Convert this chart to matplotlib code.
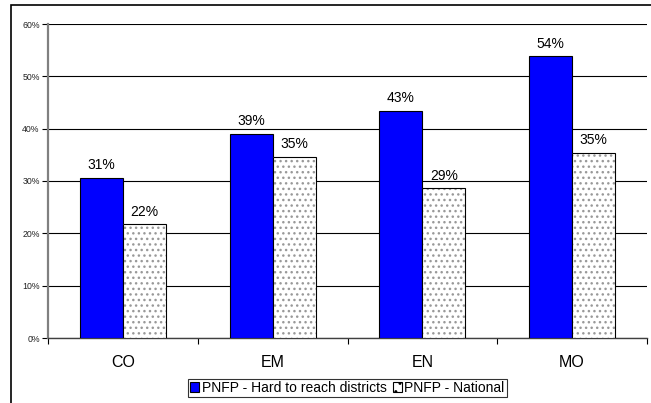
import matplotlib
matplotlib.use("Agg")
import matplotlib.pyplot as plt
from matplotlib.patches import Rectangle, Patch
from matplotlib.ticker import FixedLocator
import numpy as np

categories = ["CO", "EM", "EN", "MO"]
hard_to_reach = [30.6, 39.0, 43.4, 53.8]
national = [21.7, 34.6, 28.6, 35.4]
series_names = ["PNFP - Hard to reach districts", "PNFP - National"]
y_ticks = [0, 10, 20, 30, 40, 50, 60]

plt.rcParams["font.family"] = ["Liberation Sans", "DejaVu Sans"]
plt.rcParams["hatch.linewidth"] = 1.0

W, H = 651, 403
fig = plt.figure(figsize=(W / 100, H / 100), dpi=100)
ax = fig.add_axes([48 / W, (H - 338) / H, (647 - 48) / W, (338 - 24) / H])

x = np.arange(len(categories))
bw = 0.287

ax.bar(x - bw / 2, hard_to_reach, bw, color="#0000ff", edgecolor="black", linewidth=0.8, zorder=3)
# dotted fill drawn first, then a plain outline on top
ax.bar(x + bw / 2, national, bw, color="white", edgecolor="#999999", hatch="...", linewidth=0, zorder=3)
ax.bar(x + bw / 2, national, bw, fill=False, edgecolor="black", linewidth=0.8, zorder=4)

for xi, v in zip(x - bw / 2, hard_to_reach):
    ax.annotate(f"{v:.0f}%", (xi, v), xytext=(0, 4), textcoords="offset points",
                ha="center", va="bottom", fontsize=10)
for xi, v in zip(x + bw / 2, national):
    ax.annotate(f"{v:.0f}%", (xi, v), xytext=(0, 4), textcoords="offset points",
                ha="center", va="bottom", fontsize=10)

ax.set_xlim(-0.5, len(categories) - 0.5)
ax.set_ylim(0, 60)
ax.set_yticks(y_ticks)
ax.set_yticklabels([f"{t}%" for t in y_ticks], fontsize=6.3, color="#222222")
ax.yaxis.grid(True, color="black", linewidth=0.8)
ax.set_axisbelow(True)

ax.set_xticks(x)
ax.set_xticklabels(categories, fontsize=11.5)
ax.xaxis.set_minor_locator(FixedLocator(np.arange(-0.5, len(categories), 1.0)))
ax.tick_params(axis="x", which="major", length=0, pad=12)
ax.tick_params(axis="x", which="minor", length=4, width=0.8, direction="out", color="black")
ax.tick_params(axis="y", length=4, width=0.8, direction="out", color="black", pad=2)

for s in ("top", "right"):
    ax.spines[s].set_visible(False)
ax.spines["left"].set_color("#808080")
ax.spines["left"].set_linewidth(1.6)
ax.spines["bottom"].set_color("#404040")
ax.spines["bottom"].set_linewidth(1.0)

handles = [
    Patch(facecolor="#0000ff", edgecolor="black", linewidth=0.8),
    Patch(facecolor="white", edgecolor="black", linewidth=0.8, hatch=".."),
]
leg = fig.legend(handles, series_names, loc="center", bbox_to_anchor=((183 + 512) / 2 / W, 1 - 388 / H),
                 ncol=2, fontsize=10, frameon=True, fancybox=False, edgecolor="black",
                 handlelength=0.65, handleheight=0.65, handletextpad=0.2, columnspacing=0.4,
                 borderpad=0.15, borderaxespad=0)
leg.get_frame().set_linewidth(0.8)

# outer chart border
fig.patches.append(Rectangle((11 / W, -0.2), 2.0, (H - 5) / H + 0.2, transform=fig.transFigure,
                             fill=False, edgecolor="black", linewidth=1.2))

fig.savefig("out.png", dpi=100)
